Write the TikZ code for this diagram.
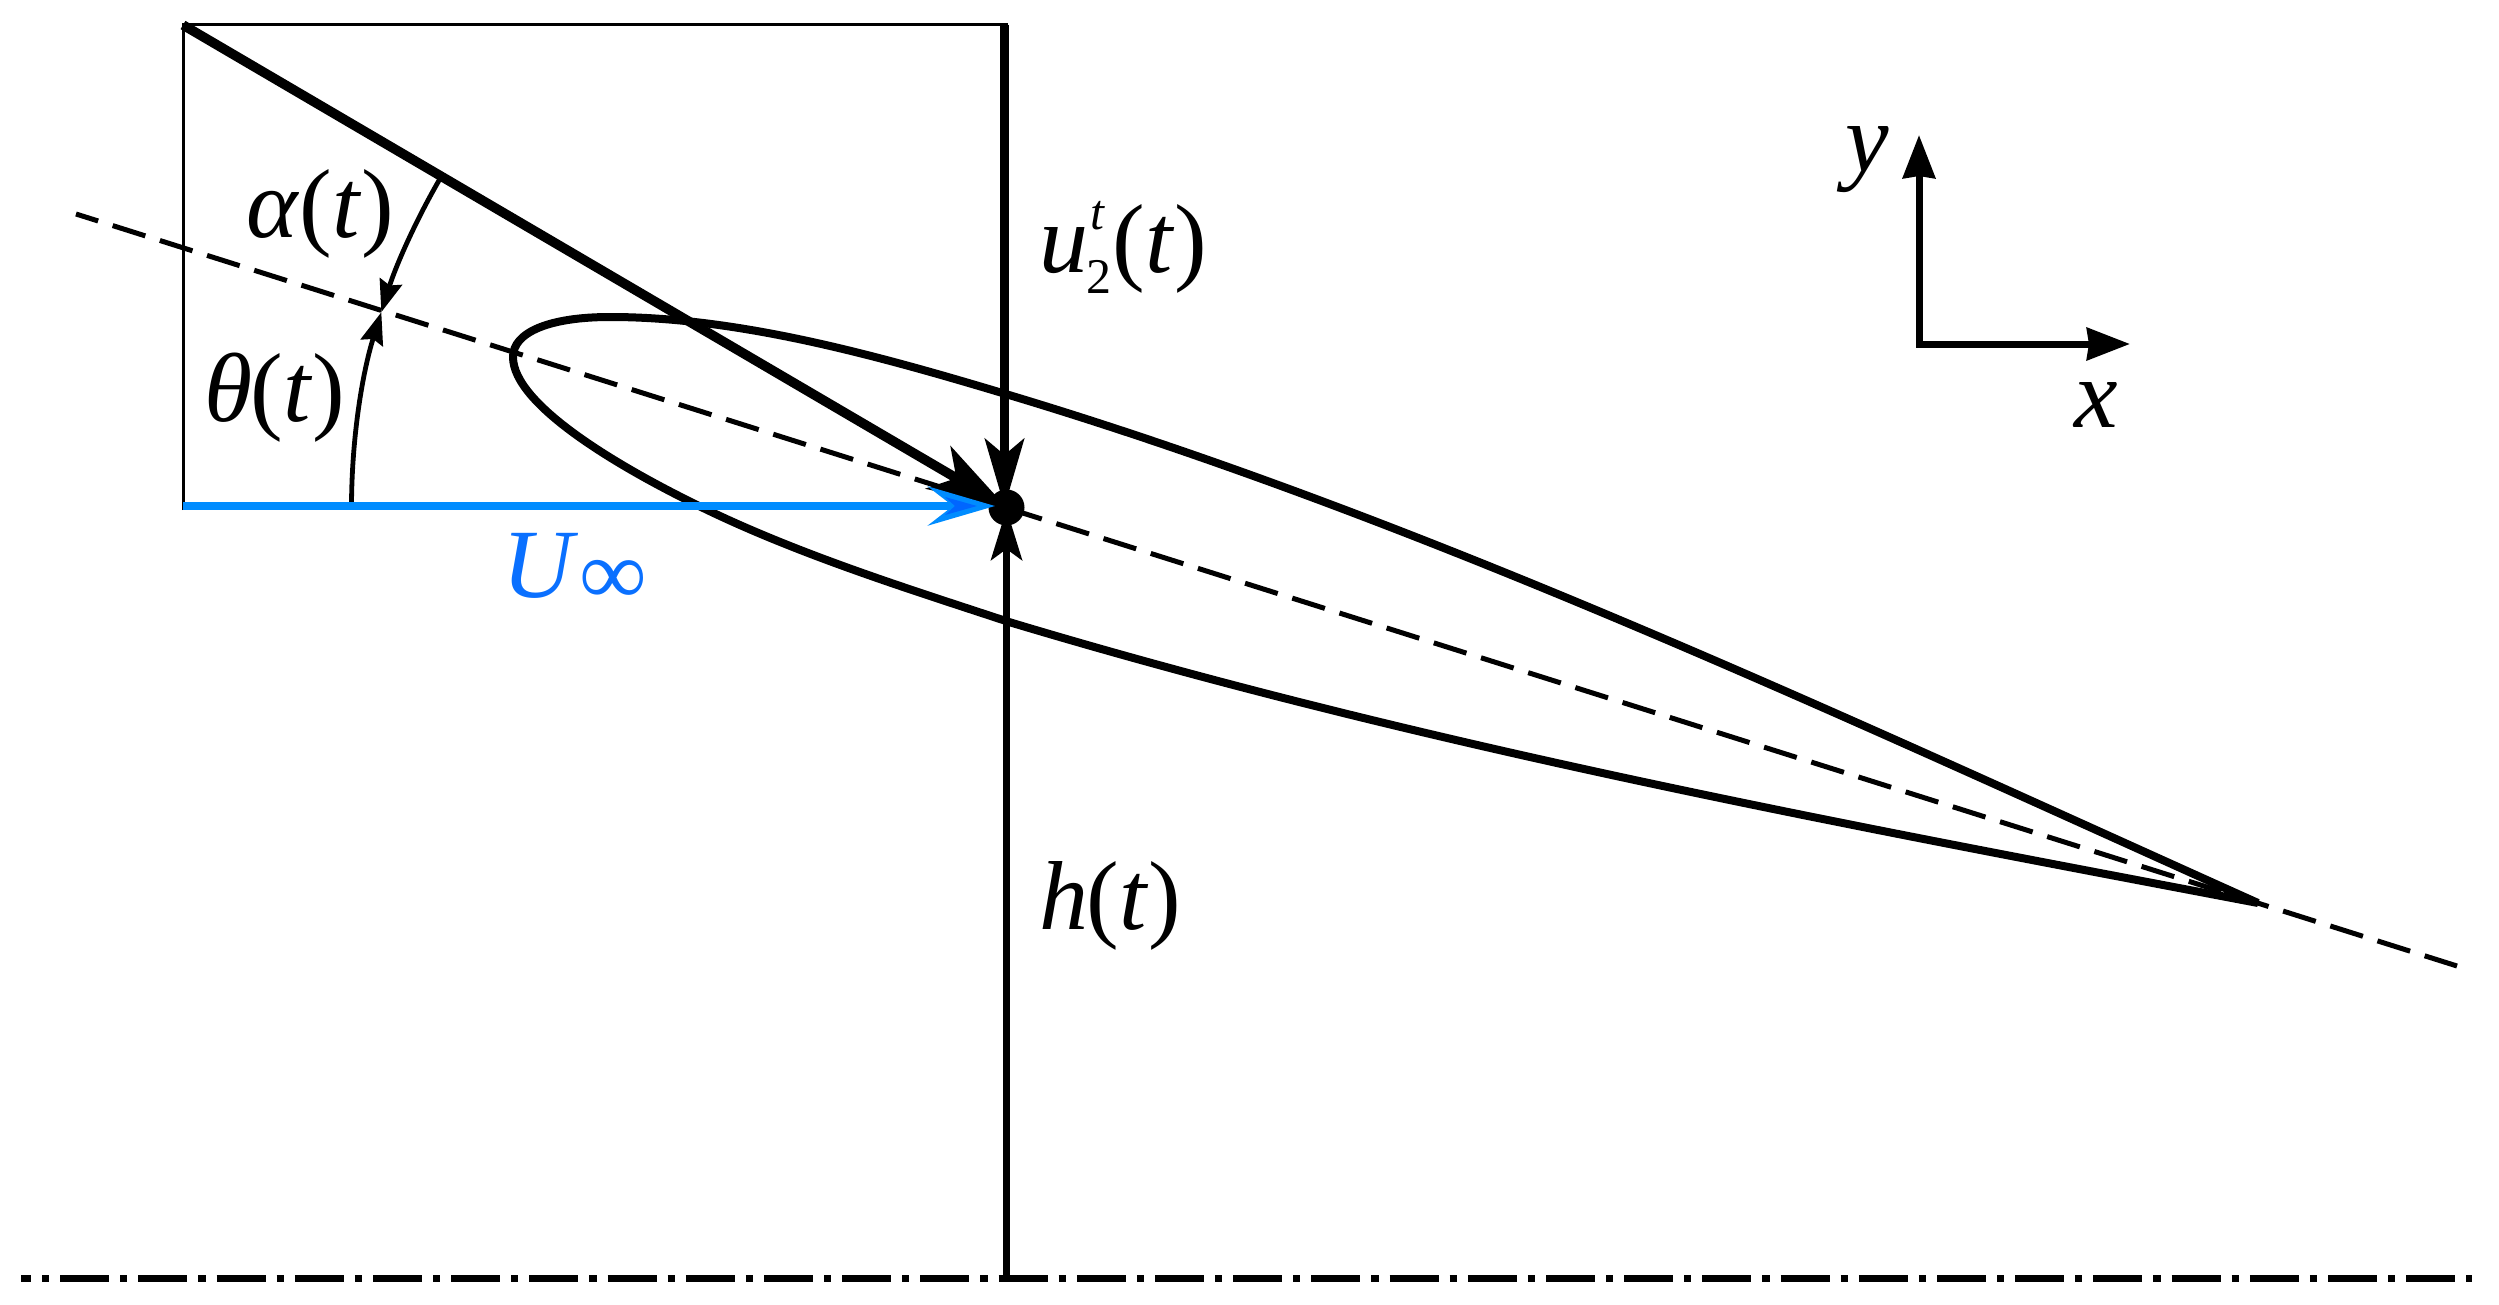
\documentclass[tikz,border=0pt]{standalone}
\usepackage{fontspec}
\setmainfont{Liberation Serif}
\usetikzlibrary{arrows.meta,calc}
\definecolor{flowblue}{HTML}{008CFF}
\definecolor{flowdark}{HTML}{0066FF}
\definecolor{flowtext}{HTML}{0A70FF}
\newcommand{\iv}[1]{\textit{#1}}
\tikzset{
  lbl/.style={anchor=base west,inner sep=0pt,font=\fontsize{49}{55}\selectfont},
  thinbox/.style={line width=1.5pt},
  chordline/.style={line width=2.5pt,dash pattern=on 17.1pt off 7.64pt,dash phase=5.5pt},
  symline/.style={line width=3.5pt,dash pattern=on 24.5pt off 5.5pt on 3.6pt off 5.5pt,dash phase=19.5pt},
  foil/.style={line width=4pt,line join=round},
  heavy/.style={line width=4.8pt},
  medium/.style={line width=3.5pt},
  anglearc/.style={line width=2.4pt},
  axisline/.style={line width=3.5pt},
  tipdiag/.style={-{Stealth[length=39.5pt,width=24.5pt,inset=10.5pt]}},
  tiptop/.style={-{Stealth[length=34pt,width=19.5pt,inset=8pt]}},
  tiplow/.style={-{Stealth[length=25.5pt,width=15.5pt,inset=5.5pt]}},
  tipblue/.style={-{Stealth[length=33.5pt,width=19.5pt,inset=12.5pt]}},
  tiparc/.style={-{Stealth[length=16pt,width=11.5pt,inset=2pt]}},
  tipaxis/.style={-{Stealth[length=21.5pt,width=16pt,inset=1pt]}},
}
\begin{document}
\begin{tikzpicture}[x=0.5pt,y=-0.5pt]
\useasboundingbox (0,0) rectangle (2499,1305);
% named points
\coordinate (boxTL) at (183,25);
\coordinate (boxTR) at (1008,25);
\coordinate (boxBL) at (183,510);
\coordinate (topEnd) at (1004.5,25);
\coordinate (flowStart) at (183,506);
\coordinate (flowTip) at (995,506);
\coordinate (lowEnd) at (1006.5,1278);
\coordinate (chordA) at (76,214);
\coordinate (chordB) at (2457,966);
\coordinate (symA) at (21,1278);
\coordinate (symB) at (2472,1278);
\coordinate (axO) at (1919,344);
\coordinate (axY) at (1919,135);
\coordinate (axX) at (2130,344);
\coordinate (pivC) at (1006.5,507.5);
\coordinate (thetaStart) at ($(pivC)+(180:655)$);
\coordinate (alphaStart) at ($(pivC)+(210:655)$);
% chord line
\draw[chordline] (chordA) -- (chordB);
% airfoil
\draw[foil] (2258,903)
  .. controls (1842,716) and (1425,520) .. (1009,395)
  .. controls (879,356) and (740,317) .. (610,317)
  .. controls (550,317) and (513,332) .. (513,357)
  .. controls (513,405) and (620,467) .. (693,503)
  .. controls (793,553) and (909,589) .. (1009,622)
  .. controls (1425,747) and (1842,824) .. (2258,903);
% box
\draw[thinbox] (boxBL) -- (boxTL) -- (boxTR);
% pivot dot
\node[circle,fill=black,inner sep=0pt,minimum size=18pt] (piv) at (pivC) {};
% main members
\draw[heavy,tipdiag] (boxTL) -- (piv.center);
\draw[heavy,tiptop] (topEnd) -- (1004.5,507);
\draw[medium,tiplow] (lowEnd) -- (1006.5,509);
% angle arcs
\draw[anglearc,tiparc] (thetaStart) arc[start angle=180,end angle=197.35,radius=655];
\draw[anglearc,tiparc] (alphaStart) arc[start angle=210,end angle=197.35,radius=655];
% flow arrow
\draw[flowblue,line width=4pt,tipblue] (flowStart) -- (flowTip);
\fill[flowdark] (945,497) -- (977,506) -- (945,515) -- (955,506) -- cycle;
% axes
\draw[axisline,tipaxis] (1919,347.5) -- (axY);
\draw[axisline,tipaxis] (axO) -- (axX);
% labels
\node[lbl] (lalpha) at (246,238) {\iv{α}(\iv{t})};
\node[lbl] (ltheta) at (204,421) {\iv{θ}\kern-1pt(\iv{t})};
\node[lbl,text=flowtext] (lU) at (502,597) {\iv{U}\kern1pt\raisebox{-3.5pt}{\fontsize{46}{50}\selectfont\bfseries ∞}};
\node[lbl] (lu) at (1039,272) {\iv{u}\rlap{\kern1pt\raisebox{21pt}{\fontsize{25}{28}\selectfont\iv{t}}}\kern-1pt\raisebox{-10.5pt}{\fontsize{25}{28}\selectfont 2}\kern.5pt(\iv{t})};
\node[lbl] (lh) at (1039,929) {\iv{h}\kern-1pt(\iv{t})};
\node[lbl] (ly) at (1845,172) {\iv{y}};
\node[lbl] (lx) at (2074,427) {\iv{x}};
% symmetry line
\draw[symline] (symA) -- (symB);
\end{tikzpicture}
\end{document}
